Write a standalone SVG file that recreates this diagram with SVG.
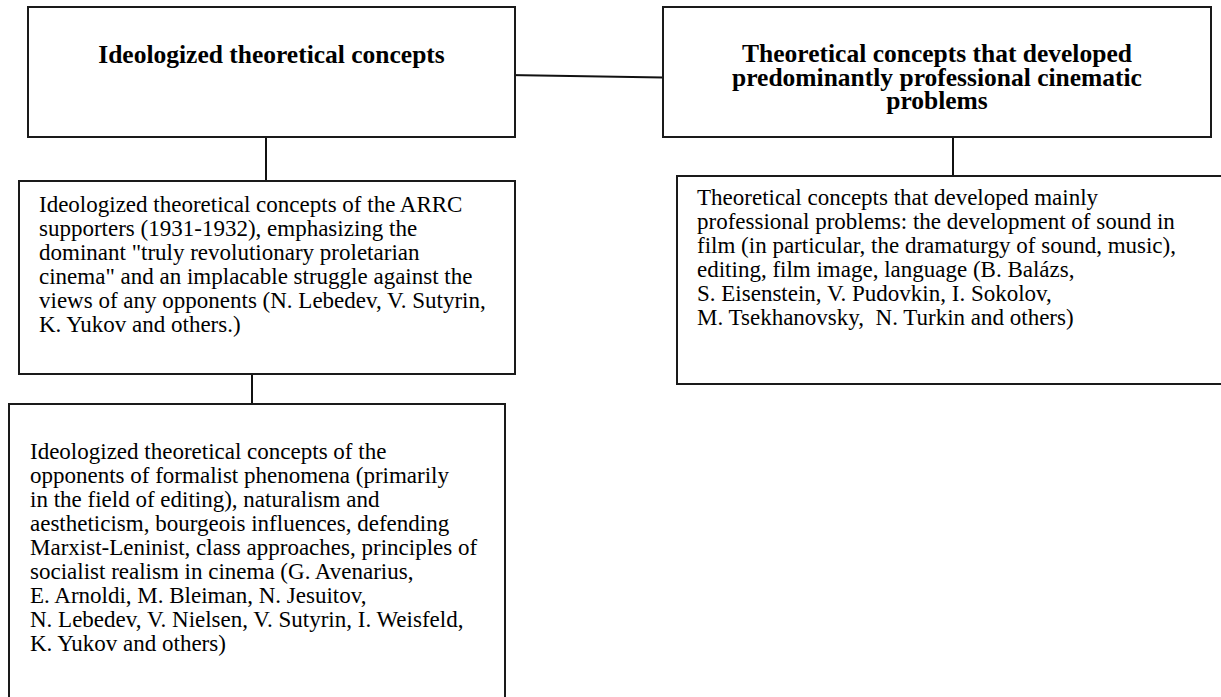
<svg xmlns="http://www.w3.org/2000/svg" width="1221" height="697" viewBox="0 0 1221 697">
  <style>
    .box { fill: #ffffff; stroke: #1a1a1a; stroke-width: 2; }
    .link { stroke: #111111; stroke-width: 2; fill: none; }
    .head { font-family: "Liberation Serif", "Times New Roman", serif; font-weight: bold; font-size: 25.5px; fill: #000; text-anchor: middle; }
    .body { font-family: "Liberation Serif", "Times New Roman", serif; font-size: 23px; fill: #000; }
  </style>
  <rect width="1221" height="697" fill="#ffffff"/>

  <!-- connectors -->
  <g id="connectors">
    <line class="link" x1="505" y1="75" x2="663" y2="77.5"/>
    <line class="link" x1="266" y1="137" x2="266" y2="186"/>
    <line class="link" x1="252" y1="374" x2="252" y2="404"/>
    <line class="link" x1="953" y1="137" x2="953" y2="181"/>
  </g>

  <!-- top left: ideologized concepts -->
  <g id="ideologized">
    <rect class="box" x="28" y="7" width="487" height="130"/>
    <text class="head" x="271.5" y="63">Ideologized theoretical concepts</text>
  </g>

  <!-- top right: professional concepts -->
  <g id="professional">
    <rect class="box" x="663" y="7" width="548" height="130"/>
    <text class="head" x="937" y="62">Theoretical concepts that developed</text>
    <text class="head" x="937" y="85.5">predominantly professional cinematic</text>
    <text class="head" x="937" y="109">problems</text>
  </g>

  <!-- ARRC supporters -->
  <g id="arrc">
    <rect class="box" x="19" y="181" width="496" height="193"/>
    <text class="body" x="39" y="212">Ideologized theoretical concepts of the ARRC</text>
    <text class="body" x="39" y="236">supporters (1931-1932), emphasizing the</text>
    <text class="body" x="39" y="260">dominant "truly revolutionary proletarian</text>
    <text class="body" x="39" y="284">cinema" and an implacable struggle against the</text>
    <text class="body" x="39" y="308">views of any opponents (N. Lebedev, V. Sutyrin,</text>
    <text class="body" x="39" y="332">K. Yukov and others.)</text>
  </g>

  <!-- opponents of formalism -->
  <g id="opponents">
    <rect class="box" x="9" y="404" width="496" height="310"/>
    <text class="body" x="30" y="459">Ideologized theoretical concepts of the</text>
    <text class="body" x="30" y="483">opponents of formalist phenomena (primarily</text>
    <text class="body" x="30" y="507">in the field of editing), naturalism and</text>
    <text class="body" x="30" y="531">aestheticism, bourgeois influences, defending</text>
    <text class="body" x="30" y="555">Marxist-Leninist, class approaches, principles of</text>
    <text class="body" x="30" y="579">socialist realism in cinema (G. Avenarius,</text>
    <text class="body" x="30" y="603">E. Arnoldi, M. Bleiman, N. Jesuitov,</text>
    <text class="body" x="30" y="627">N. Lebedev, V. Nielsen, V. Sutyrin, I. Weisfeld,</text>
    <text class="body" x="30" y="651">K. Yukov and others)</text>
  </g>

  <!-- professional problems detail -->
  <g id="problems">
    <rect class="box" x="677" y="176" width="560" height="208"/>
    <text class="body" x="697" y="205">Theoretical concepts that developed mainly</text>
    <text class="body" x="697" y="229">professional problems: the development of sound in</text>
    <text class="body" x="697" y="253">film (in particular, the dramaturgy of sound, music),</text>
    <text class="body" x="697" y="277">editing, film image, language (B. Balázs,</text>
    <text class="body" x="697" y="301">S. Eisenstein, V. Pudovkin, I. Sokolov,</text>
    <text class="body" x="697" y="325" xml:space="preserve">M. Tsekhanovsky,  N. Turkin and others)</text>
  </g>
</svg>
